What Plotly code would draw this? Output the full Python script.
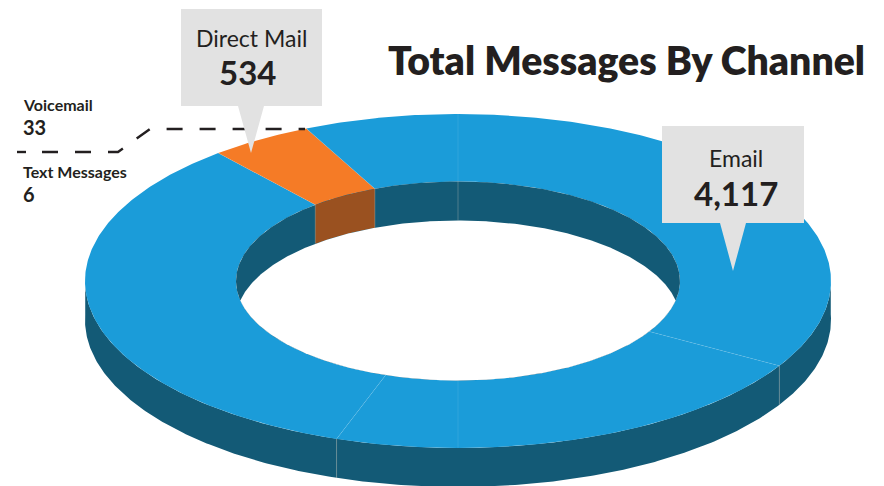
import numpy as np
import plotly.graph_objects as go

# Data
channels = ["Email", "Direct Mail", "Voicemail", "Text Messages"]
message_counts = [4117, 534, 33, 6]
title_text = "Total Messages By Channel"

# Drawn ring segments, clockwise from 12 o'clock (the picture's sweep, in degrees)
segment_sweeps = [120.5, 59.5, 19, 121, 16, 24]
segment_roles = ["other", "other", "other", "other", "direct", "other"]
# The seams lean slightly: extra degrees on the inner rim, per seam
seam_inner_lean = [0, 0, 0, 0, 0, 2, 0]

BLUE, BLUE_DARK = "#1b9cd9", "#135a76"
ORANGE, ORANGE_DARK = "#f57b26", "#9a5120"
GREY, INK = "#e2e2e2", "#231f20"

W, H = 884, 486
CX, CY = 458, 281
RX_O, RY_O = 373, 167
RX_I, RY_I = 222, 99.5
DEPTH = 39


def pt(rx, ry, deg, dy=0):
    t = np.radians(deg)
    return CX + rx * np.sin(t), CY - ry * np.cos(t) + dy


def arc(rx, ry, a, b, dy=0):
    n = max(int(abs(b - a) * 2), 2)
    return pt(rx, ry, np.linspace(a, b, n), dy)


fig = go.Figure()


def poly(xs, ys, color):
    fig.add_trace(go.Scatter(x=list(xs), y=list(ys), mode="lines", fill="toself",
                             fillcolor=color, line=dict(width=0), hoverinfo="skip",
                             showlegend=False))


def seg(xs, ys, color, width=0.7, dash=None):
    fig.add_trace(go.Scatter(x=xs, y=ys, mode="lines",
                             line=dict(color=color, width=width, dash=dash),
                             hoverinfo="skip", showlegend=False))


edges = np.concatenate([[0], np.cumsum(segment_sweeps)])
inner_edges = edges + np.array(seam_inner_lean)

# Outer wall
x1, y1 = arc(RX_O, RY_O, 88, 272)
x2, y2 = arc(RX_O, RY_O, 272, 88, DEPTH)
poly(np.r_[x1, x2], np.r_[y1, y2], BLUE_DARK)

# Top face
for i, role in enumerate(segment_roles):
    x1, y1 = arc(RX_O, RY_O, edges[i], edges[i + 1])
    x2, y2 = arc(RX_I, RY_I, inner_edges[i + 1], inner_edges[i])
    poly(np.r_[x1, x2], np.r_[y1, y2], ORANGE if role == "direct" else BLUE)

# Inner wall: dark base, coloured segment, then the white opening
x1, y1 = arc(RX_I, RY_I, 0, 360)
poly(x1, y1, BLUE_DARK)
for i, role in enumerate(segment_roles):
    if role == "direct":
        a, b = inner_edges[i], inner_edges[i + 1]
        x1, y1 = arc(RX_I, RY_I, a, b)
        x2, y2 = arc(RX_I, RY_I, b, a, DEPTH)
        poly(np.r_[x1, x2], np.r_[y1, y2], ORANGE_DARK)
t0 = np.degrees(np.arccos(DEPTH / 2 / RY_I))
x1, y1 = arc(RX_I, RY_I, 180 - t0, 180 + t0)
x2, y2 = arc(RX_I, RY_I, -t0, t0, DEPTH)
poly(np.r_[x1, x2], np.r_[y1, y2], "#ffffff")

# Seams
for e, ei in zip(edges[:-1], inner_edges[:-1]):
    xo, yo = pt(RX_O, RY_O, e)
    xi, yi = pt(RX_I, RY_I, ei)
    seg([xo, xi], [yo, yi], "rgba(255,255,255,0.14)", 0.7)
    if e % 360 != 180:
        if np.cos(np.radians(e)) < 0:
            seg([xo, xo], [yo, yo + DEPTH], "rgba(200,200,190,0.6)", 0.8)
        else:
            seg([xi, xi], [yi, yi + DEPTH], "rgba(200,200,190,0.4)", 0.8)

# Leader for the two small channels
seg([17, 26], [152, 152], INK, 2.4)
seg([42, 118, 150, 305], [152, 152, 129, 129], INK, 2.4, "16px,17px")

# Call-outs
poly([181, 322, 322, 264, 251, 238, 181], [9, 9, 106, 106, 153, 106, 106], GREY)
poly([662, 804, 804, 746, 733, 720, 662], [126, 126, 223, 223, 271, 223, 223], GREY)


def note(x, y, text, size, bold=False, anchor="center", weight=None):
    fig.add_annotation(x=x, y=y, text=f"<b>{text}</b>" if bold else text, showarrow=False,
                       xanchor=anchor, yanchor="middle", xref="x", yref="y",
                       font=dict(family="Lato", size=size, color=INK, weight=weight))


note(251, 37.5, channels[1], 23)
note(247, 72, f"{message_counts[1]:,}", 33, True)
note(736, 157.5, channels[0], 23)
note(736, 192.5, f"{message_counts[0]:,}", 33, True)
note(21, 104, channels[2], 16, True, "left")
note(21, 127, f"{message_counts[2]:,}", 20, True, "left")
note(21, 171, channels[3], 16, True, "left")
note(21, 194, f"{message_counts[3]:,}", 20, True, "left")
note(626, 59.5, title_text, 39.2, False, "center", 800)

fig.update_layout(width=W, height=H, margin=dict(l=0, r=0, t=0, b=0),
                  paper_bgcolor="#ffffff", plot_bgcolor="#ffffff", showlegend=False,
                  xaxis=dict(range=[0, W], visible=False, fixedrange=True),
                  yaxis=dict(range=[H, 0], visible=False, fixedrange=True))
fig.write_html("out.html", config={"displayModeBar": False},
               post_script="document.body.style.margin='0';document.body.style.overflow='hidden';")
